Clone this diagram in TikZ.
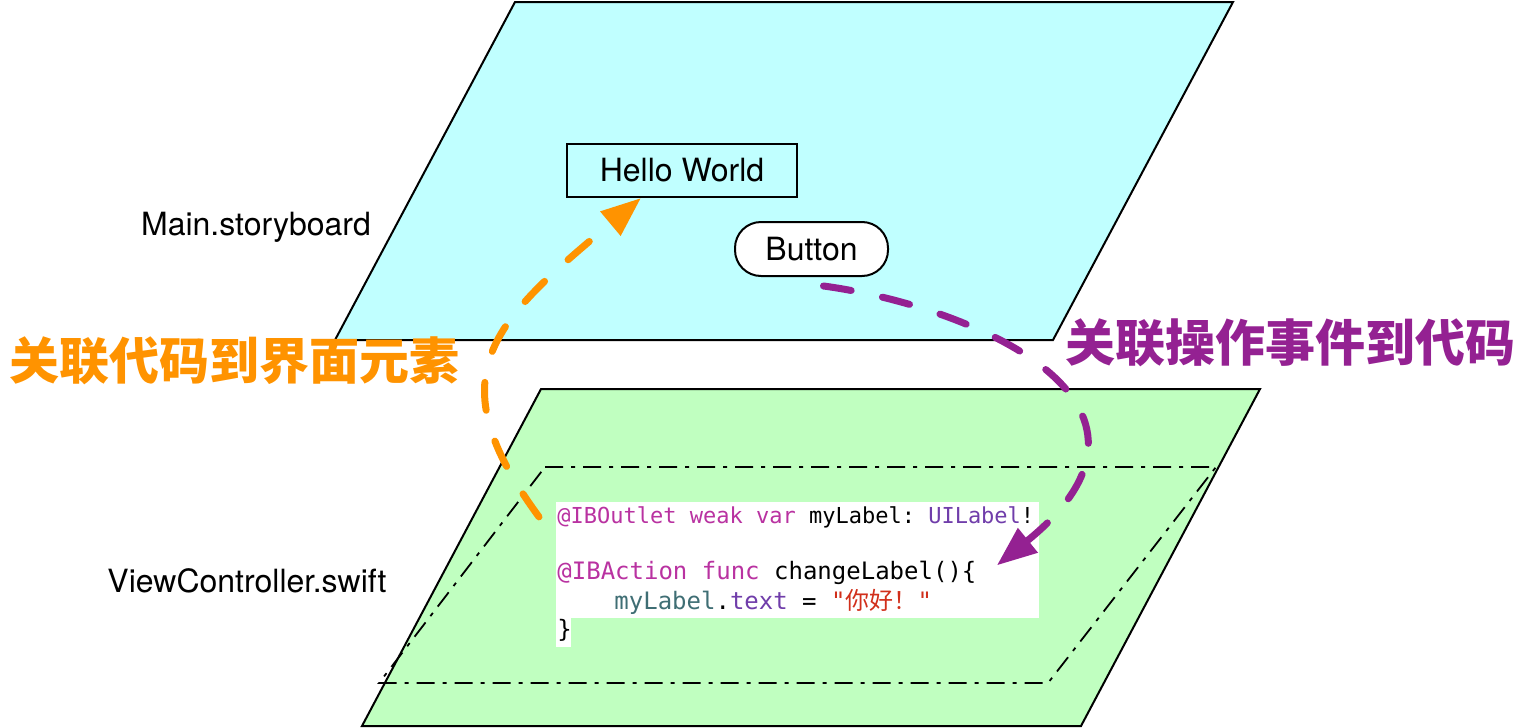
\documentclass[tikz,border=0pt]{standalone}
\usepackage{fontspec}
\setmainfont{TeX Gyre Heros}
\setmonofont{DejaVu Sans Mono}
\newfontfamily\cjk{Noto Sans CJK SC}
\usetikzlibrary{arrows.meta}
\definecolor{iceblue}{RGB}{192,255,255}
\definecolor{mintgreen}{RGB}{192,255,192}
\definecolor{tangerine}{RGB}{255,147,0}
\definecolor{plum}{RGB}{148,33,146}
\definecolor{kwcol}{RGB}{185,50,161}
\definecolor{tycol}{RGB}{112,61,170}
\definecolor{varcol}{RGB}{63,110,116}
\definecolor{strcol}{RGB}{209,47,27}
\newcommand{\cKw}[1]{\textcolor{kwcol}{#1}}
\newcommand{\cTy}[1]{\textcolor{tycol}{#1}}
\newcommand{\cVar}[1]{\textcolor{varcol}{#1}}
\newcommand{\cStr}[1]{\textcolor{strcol}{#1}}
\tikzset{
  label16/.style={font=\fontsize{16}{19}\selectfont},
  codeline/.style={anchor=base west,inner sep=0pt,font=\ttfamily\fontsize{11}{13}\selectfont},
  codebig/.style={codeline,font=\ttfamily\fontsize{12}{14}\selectfont},
  bigcjk/.style={font=\cjk\bfseries\fontsize{25}{30}\selectfont},
  link/.style={line width=3.5pt,dash pattern=on 14pt off 16pt,line cap=round,-{Triangle[length=20pt,width=15pt]}}
}
\begin{document}
\begin{tikzpicture}[x=0.5pt,y=-0.5pt]
	\useasboundingbox (0,0) rectangle (1526,728);
	% the two layers
	\draw[line width=1pt,fill=iceblue] (515,2) -- (1233,2) -- (1053,340) -- (335,340) -- cycle;
	\draw[line width=1pt,fill=mintgreen] (541,389) -- (1260,389) -- (1081,726) -- (362,726) -- cycle;
	\draw[line width=0.9pt,dash pattern=on 9pt off 4pt on 2pt off 4pt] (545,467) -- (1216,467) -- (1048,683) -- (379,683) -- cycle;
	\node[label16] (sb) at (256,227) {Main.storyboard};
	\node[label16] (vc) at (247,581) {ViewController.swift};
	\node[label16,draw,line width=1pt,minimum width=115pt,minimum height=26.5pt,inner sep=0pt] (hello) at (682,170.5) {Hello World};
	\node[label16,draw,fill=white,line width=1pt,rounded corners=13pt,minimum width=76.5pt,minimum height=27pt,inner sep=0pt] (btn) at (811.5,249) {Button};
	% code
	\fill[white] (556,502) rectangle (1039,618);
	\fill[white] (556,617) rectangle (571,647);
	\node[codeline] (outlet) at (557,523) {\cKw{@IBOutlet weak var} myLabel: \cTy{UILabel}!};
	\node[codebig] (action) at (557,579) {\cKw{@IBAction func} changeLabel()\{};
	\node[codebig] (body) at (614,609) {\cVar{myLabel}.\cTy{text} = \cStr{"{\cjk 你好！}"}};
	\node[codebig] (close) at (557,637) {\}};
	% links
	\node[bigcjk,text=tangerine] (lnkout) at (235,361) {关联代码到界面元素};
	\node[bigcjk,text=plum] (lnkact) at (1290,343) {关联操作事件到代码};
	\coordinate (hellotip) at ([xshift=37.5pt]hello.south west);
	\coordinate (btnout) at ([xshift=6pt,yshift=-4.5pt]btn.south);
	\coordinate (actin) at ([xshift=10pt,yshift=3.5pt]action.east);
	\draw[link,tangerine] ([xshift=-9pt]outlet.west) .. controls (434,374) and (493,322) .. (hellotip);
	\draw[link,plum] (btnout) .. controls (971,306) and (1199,402) .. (actin);
\end{tikzpicture}
\end{document}
